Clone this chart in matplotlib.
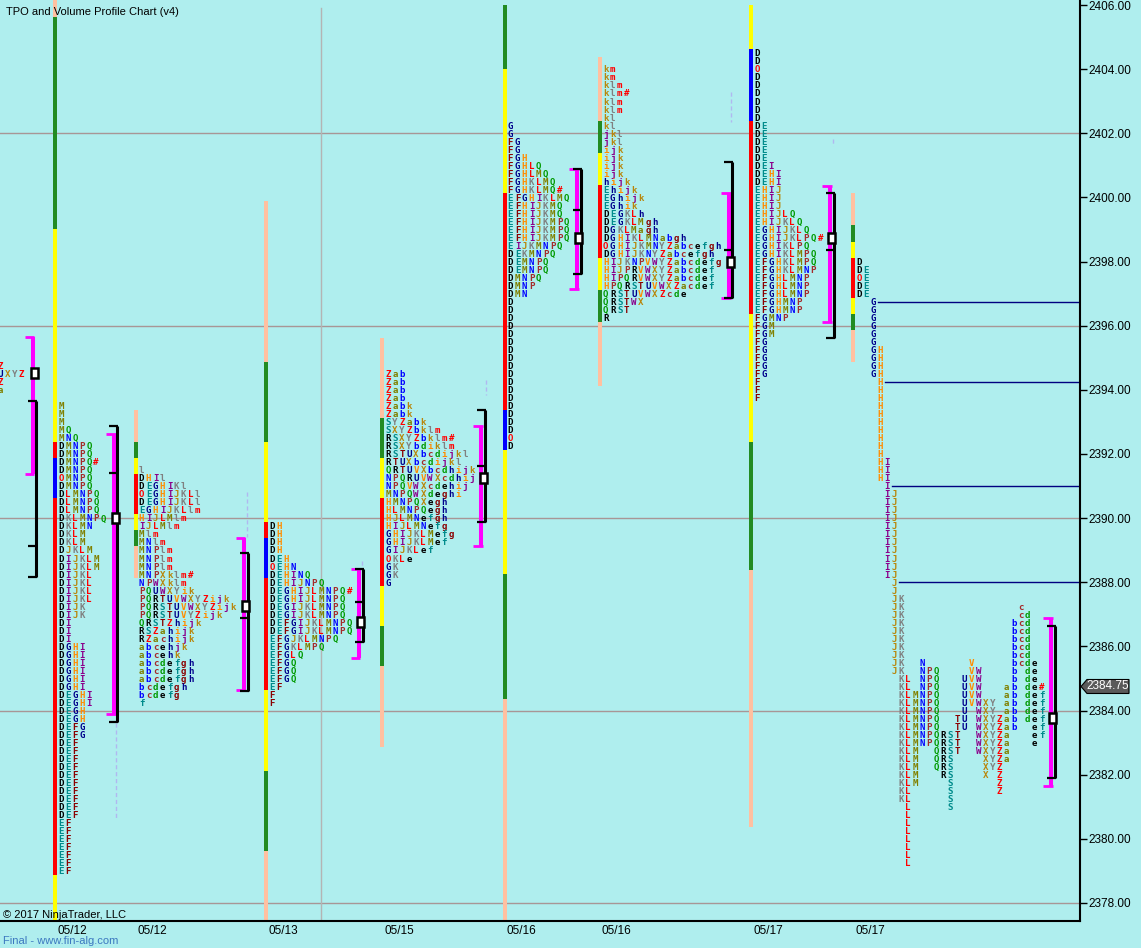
import matplotlib
matplotlib.use('Agg')
import matplotlib.pyplot as plt
from matplotlib.patches import Rectangle, Polygon

# ---- look ----
BG = '#AFEEEE'
MAGENTA = '#FF00FF'
BAR_COLORS = {'p': '#FFC0A0', 'g': '#228B22', 'y': '#FFFF00', 'r': '#FF0000', 'b': '#0000FF'}
LETTERS = 'DEFGHIJKLMNPQRSTUVWXYZabcdefghijklm'
CYCLE = ['#000000', '#008B8B', '#8B0000', '#00008B', '#FF8C00', '#8B008B',
         '#B8860B', '#808080', '#FF0000', '#808000', '#0000FF', '#A52A2A', '#009900']
TICK = 0.25
COL_W = 7.03      # px between letter columns
PX = 32.07        # px per point on the price scale

# ---- data ----
price_ticks = list(range(2378, 2407, 2))
grid_prices = [2378, 2384, 2390, 2396, 2402]
date_labels = ['05/12', '05/12', '05/13', '05/15', '05/16', '05/16', '05/17', '05/17']
last_price = 2384.75

# previous session, only its right edge is visible
p0_top = 2394.75
p0_rows = ['Z', 'UXYZ', 'Z', 'a']

pA_top = 2393.5
pA_rows = (['M', 'M', 'M', 'MQ', 'MNQ', 'DMNPQ', 'DMNPQ', 'DMNPQ#', 'DMNPQ', 'OMNPQ', 'DMNPQ',
            'DLMNPQ', 'DLMNPQ', 'DLMNPQ', 'DKLMNPQ', 'DKLMN', 'DKLM', 'DKLM', 'DJKLM', 'DIJKLM', 'DIJKLM',
            'DIJKL', 'DIJKL', 'DIJKL', 'DIJKL', 'DIJK', 'DIJK', 'DI', 'DI', 'DI']
           + ['DGHI'] * 6 + ['DEGHI'] * 2 + ['DEGH'] * 2 + ['DEFG'] * 2 + ['DEF'] * 10 + ['EF'] * 7)

pB_top = 2391.5
pB_rows = ['l', 'DHIl', 'DEGHIKl', 'OEGHIJKLl', 'DEGHIJKLl', 'EGHIJKLlm', 'HIJLMlm', 'IJLMlm',
           'Mlm', 'MNlm', 'MNPlm', 'MNPlm', 'MNPlm', 'MNPXklm#', 'NPWXklm', 'PQUWXYik',
           'PQRTUVWXYZijk', 'PQRSTUVWXYZijk', 'PQRSTUVYZijk', 'QRSTZhijk', 'RSZahijk', 'RZachijk',
           'abcehjk', 'abcehk', 'abcdefgh', 'abcdefgh', 'abcdefgh', 'bcdefgh', 'bcdefg', 'f']

pC_top = 2389.75
pC_rows = ['DH', 'DH', 'DH', 'DH', 'DEH', 'OEHN', 'DEHINQ', 'DEHIJNPQ', 'DEGHIJLMNPQ#',
           'DEGHIJLMNPQ', 'DEGIJKLMNPQ', 'DEGIJKLMNPQ', 'DEFGIJKLMNPQ', 'DEFGIJKLMNPQ',
           'EFGJKLMNPQ', 'EFGKLMPQ', 'EFGLQ', 'EFGQ', 'EFGQ', 'EFGQ', 'EF', 'F', 'F']

pD_top = 2394.5
pD_rows = ['Zab', 'Zab', 'Zab', 'Zab', 'Zabk', 'Zabk', 'SYZabk', 'SXYZbklm', 'RSXYZbklm#',
           'RSXYbdiklm', 'RSTUXbcdijkl', 'RTUXbcdijkl', 'QRTUVXbcdhijk', 'NPQRUVWXcdhij',
           'NPQVWXcdehij', 'MNPQWXdeghi', 'HMNPQXegh', 'HLMNPQegh', 'HJLMNefgh', 'HIJLMNefg',
           'GHIJKLMefg', 'GHIJKLMef', 'GIJKLef', 'OKLe', 'GK', 'GK', 'G']

pE_top = 2402.25
pE_rows = (['G', 'G', 'FG', 'FG', 'FGH', 'FGHLQ', 'FGHLMQ', 'FGHKLMQ', 'FGHKLMQ#', 'EFGHIKLMQ',
            'EFHIJKMQ', 'EFHIJKMQ', 'EFHIJKMPQ', 'EFHIJKMPQ', 'EFHIJKMPQ', 'EIJKMNPQ', 'DEKMNPQ',
            'DEMNPQ', 'DEMNPQ', 'DMNPQ', 'DMNP', 'DMN'] + ['D'] * 17 + ['O', 'D'])

pF_top = 2404.0
pF_rows = ['km', 'km', 'klm', 'klm#', 'klm', 'klm', 'kl', 'kl', 'jkl', 'jkl', 'ijk', 'ijk', 'ijk',
           'ijk', 'hijk', 'Ehijk', 'EGhijk', 'EGhik', 'DEGKLh', 'DEGKLMgh', 'DGKLMagh',
           'DGHIKLMNabgh', 'OGHIJKMNYZabcefgh', 'DGHIJKNYZabcefgh', 'HIJKNPVWYZabcdefg',
           'HIJPRVWXYZabcdef', 'HIPQRVWXYZabcdef', 'HPQRSTUVWXZacdef', 'QRSTUVWXZcde',
           'QRSTWX', 'QRST', 'R']

pG_top = 2404.5
pG_rows = (['D', 'D', 'O'] + ['D'] * 6 + ['DE'] * 5 + ['DEI', 'DEHI', 'DEHI'] + ['EHIJ'] * 3
           + ['EHIJLQ', 'EHIJKLQ', 'EGHIJKLQ', 'EGHIJKLPQ#', 'EGHIKLPQ', 'EGHIKLMPQ', 'EFGHKLMPQ',
              'EFGHKLMNP'] + ['EFGHLMNP'] * 3 + ['EFGHMNP'] * 2 + ['FGMNP', 'FGM', 'FGM']
           + ['FG'] * 5 + ['F'] * 3)

# current session, split view: one column per period letter, (top, bottom) of its prints
split_letters = ['D', 'E', 'G', 'H', 'I', 'J', 'K', 'L', 'M', 'N', 'P', 'Q', 'R', 'S', 'T', 'U',
                 'V', 'W', 'X', 'Y', 'Z', 'a', 'b', 'c', 'd', 'e', 'f']
split_top = [2398.0, 2397.75, 2396.75, 2395.25, 2391.75, 2390.75, 2387.5, 2385.0, 2384.5, 2385.5,
             2385.25, 2385.25, 2383.25, 2383.25, 2383.75, 2385.0, 2385.5, 2385.25, 2384.25, 2384.25,
             2383.75, 2384.75, 2386.75, 2387.25, 2387.0, 2385.5, 2384.5]
split_bot = [2397.0, 2397.0, 2394.5, 2391.25, 2388.25, 2385.25, 2381.25, 2379.25, 2381.75, 2383.0,
             2383.0, 2382.25, 2382.0, 2381.0, 2382.75, 2383.5, 2384.25, 2382.75, 2382.0, 2382.25,
             2381.5, 2382.5, 2383.5, 2385.5, 2383.75, 2383.0, 2383.25]
split_marks = [('O', 'D', 2397.5), ('#', 'f', 2384.75)]
# untested period highs, lines run to the price axis
naked_letters = ['G', 'H', 'I', 'J']
naked_prices = [2396.75, 2394.25, 2391.0, 2388.0]

# session range bars: price edges and colour keys
barA_edges = [2406.5, 2405.625, 2399.0, 2392.375, 2391.875, 2390.625, 2378.875, 2377.0]
barA_keys = 'pgyrbry'
barB_edges = [2393.375, 2392.375, 2391.875, 2391.375, 2390.125, 2389.625, 2389.125, 2388.125]
barB_keys = 'pgyrygp'
barC_edges = [2399.875, 2394.875, 2392.375, 2389.875, 2389.375, 2388.125, 2384.625, 2382.125,
              2379.625, 2377.0]
barC_keys = 'pgyrbrygp'
barD_edges = [2395.625, 2393.125, 2391.875, 2390.625, 2387.875, 2386.625, 2385.375, 2382.875]
barD_keys = 'pgyrygp'
barE_edges = [2406.0, 2404.0, 2400.125, 2393.375, 2392.125, 2388.25, 2384.375, 2377.0]
barE_keys = 'gyrbygp'
barF_edges = [2404.375, 2402.375, 2401.375, 2400.375, 2398.125, 2397.125, 2396.125, 2394.125]
barF_keys = 'pgyrygp'
barG_edges = [2406.0, 2404.625, 2402.375, 2396.375, 2392.375, 2388.375, 2380.375]
barG_keys = 'ybrygp'
barH_edges = [2400.125, 2399.125, 2398.625, 2398.125, 2396.875, 2396.375, 2395.875, 2394.875]
barH_keys = 'pgyrygp'

# value areas: TPO (magenta), volume (black), point of control, extra marks
va0 = dict(tpo=(2395.65, 2391.38), vol=(2393.65, 2388.16), poc=2394.52, marks=[2389.13])
vaA = dict(tpo=(2392.63, 2383.90), vol=(2392.88, 2383.65), poc=2390.0, marks=[2391.41])
vaB = dict(tpo=(2389.39, 2384.64), vol=(2388.91, 2384.61), poc=2387.27, marks=[2386.9])
vaC = dict(tpo=(2388.40, 2385.65), vol=(2388.41, 2386.14), poc=2386.77, marks=[2387.39])
vaD = dict(tpo=(2392.88, 2389.13), vol=(2393.37, 2389.88), poc=2391.26, marks=[2391.63])
vaE = dict(tpo=(2400.89, 2397.14), vol=(2400.89, 2397.61), poc=2398.74, marks=[2399.61])
vaF = dict(tpo=(2400.14, 2396.86), vol=(2401.11, 2396.86), poc=2397.99, marks=[2398.36])
vaG = dict(tpo=(2400.37, 2396.12), vol=(2400.14, 2395.63), poc=2398.74, marks=[2398.37])
vaH = dict(tpo=(2386.89, 2381.66), vol=(2386.65, 2381.89), poc=2383.78, marks=[])

# faint single-print markers (x px, top, bottom)
faint = [(116, 2383.61, 2380.65), (246.5, 2390.81, 2389.41), (362, 2388.65, 2388.40),
         (486, 2394.30, 2393.85), (731, 2403.29, 2402.35), (833, 2401.82, 2401.60),
         (1056, 2383.95, 2383.70), (37, 2389.50, 2389.30), (118, 2391.60, 2391.40)]

# ---- layout (px): first letter column centre, bar centre, magenta/black bracket x ----
layout = {
    '0': dict(x0=0.5, bar=None, xm=32.5, xb=35.5),
    'A': dict(x0=61, bar=55, xm=114, xb=117),
    'B': dict(x0=141.5, bar=136, xm=243.5, xb=247.5),
    'C': dict(x0=272, bar=266, xm=358.5, xb=362.5),
    'D': dict(x0=388, bar=382, xm=481, xb=485),
    'E': dict(x0=510.5, bar=505, xm=577, xb=580.5),
    'F': dict(x0=605.7, bar=600, xm=729, xb=731.5),
    'G': dict(x0=757, bar=751, xm=830, xb=833.5),
    'H': dict(x0=859, bar=853, xm=1051, xb=1054.5),
}


def letter_color(ch):
    if ch in 'O#':
        return '#FF0000'
    return CYCLE[LETTERS.index(ch) % 13]


fig = plt.figure(figsize=(11.41, 9.48), dpi=100, facecolor=BG)
ax = fig.add_axes([0, 27 / 948, 1080 / 1141, 921 / 948])
ax.set_facecolor(BG)
ax.set_xlim(0, 1080)
ax.set_ylim(2406 - 916 / PX, 2406 + 5 / PX)

TXT = dict(fontsize=6.6, family='DejaVu Sans Mono', weight='bold', ha='center', va='baseline',
           zorder=3)
BASE = 3.3 / PX   # shift so the letter sits centred on its price


def put(x, p, ch):
    ax.text(x, p - BASE, ch, color=letter_color(ch), **TXT)


def draw_rows(key, top, rows):
    x0 = layout[key]['x0']
    for i, row in enumerate(rows):
        p = top - TICK * i
        for j, ch in enumerate(row):
            if ch != ' ':
                put(x0 + COL_W * j, p, ch)


def draw_bar(key, edges, keys):
    xc = layout[key]['bar']
    for hi, lo, k in zip(edges[:-1], edges[1:], keys):
        ax.bar(xc, hi - lo, bottom=lo, width=4, color=BAR_COLORS[k], linewidth=0, zorder=2)


def draw_va(key, va):
    xm, xb = layout[key]['xm'], layout[key]['xb']
    ax.plot([xm, xm], va['tpo'], color=MAGENTA, lw=2.9, solid_capstyle='butt', zorder=4)
    for p in va['tpo']:
        ax.plot([xm - 8, xm + 1.5], [p, p], color=MAGENTA, lw=2.0, solid_capstyle='butt', zorder=4)
    ax.plot([xb, xb], va['vol'], color='black', lw=2.2, solid_capstyle='butt', zorder=4)
    for p in list(va['vol']) + va['marks']:
        ax.plot([xb - 8, xb + 1], [p, p], color='black', lw=1.6, solid_capstyle='butt', zorder=4)
    xc = (xm + xb) / 2
    ax.add_patch(Rectangle((xc - 3.5, va['poc'] - 5 / PX), 7, 10 / PX, facecolor='white',
                           edgecolor='black', lw=1.8, zorder=5))


# grid and guide lines
for g in grid_prices:
    ax.axhline(g, color='#A89696', lw=1, zorder=1)
ax.plot([321, 321], [2406 - 3 / PX, 2370], color='#B4B4B4', lw=1, zorder=1)
for x, top, bot in faint:
    ax.plot([x, x], [top, bot], color='#B0B8F0', lw=1, ls=(0, (3, 2)), zorder=1)

# bars
draw_bar('A', barA_edges, barA_keys)
draw_bar('B', barB_edges, barB_keys)
draw_bar('C', barC_edges, barC_keys)
draw_bar('D', barD_edges, barD_keys)
draw_bar('E', barE_edges, barE_keys)
draw_bar('F', barF_edges, barF_keys)
draw_bar('G', barG_edges, barG_keys)
draw_bar('H', barH_edges, barH_keys)

# letters
draw_rows('0', p0_top, p0_rows)
draw_rows('A', pA_top, pA_rows)
draw_rows('B', pB_top, pB_rows)
draw_rows('C', pC_top, pC_rows)
draw_rows('D', pD_top, pD_rows)
draw_rows('E', pE_top, pE_rows)
draw_rows('F', pF_top, pF_rows)
draw_rows('G', pG_top, pG_rows)

x0H = layout['H']['x0']
for i, (ch, top, bot) in enumerate(zip(split_letters, split_top, split_bot)):
    n = int(round((top - bot) / TICK)) + 1
    for k in range(n):
        p = top - TICK * k
        if any(c == ch and abs(p - mp) < 1e-6 for _, c, mp in split_marks):
            continue
        put(x0H + COL_W * i, p, ch)
for mark, col, p in split_marks:
    put(x0H + COL_W * split_letters.index(col), p, mark)
for col, p in zip(naked_letters, naked_prices):
    xs = x0H + COL_W * split_letters.index(col) + 5
    ax.plot([xs, 1080], [p, p], color='#000080', lw=1, zorder=2)

# value areas
draw_va('0', va0)
draw_va('A', vaA)
draw_va('B', vaB)
draw_va('C', vaC)
draw_va('D', vaD)
draw_va('E', vaE)
draw_va('F', vaF)
draw_va('G', vaG)
draw_va('H', vaH)

# axes
for s in ['top', 'left']:
    ax.spines[s].set_visible(False)
ax.spines['right'].set_linewidth(1.5)
ax.spines['bottom'].set_linewidth(1.5)
ax.yaxis.tick_right()
ax.set_yticks(price_ticks)
ax.set_yticklabels([f'{v:.2f}' for v in price_ticks], fontsize=8.5, family='Liberation Sans')
ax.tick_params(axis='y', direction='out', length=5, width=1, pad=1)
ax.set_xticks([layout[k]['x0'] + 11 for k in 'ABCDEFGH'])
ax.set_xticklabels(date_labels, fontsize=8.5, family='Liberation Sans')
ax.tick_params(axis='x', length=0, pad=3)

# last price marker
h = 7 / PX
ax.add_patch(Polygon([(1081, last_price), (1087, last_price + h), (1129, last_price + h),
                      (1129, last_price - h), (1087, last_price - h)], closed=True,
                     facecolor='#5A5A5A', edgecolor='black', lw=0.8, clip_on=False, zorder=6))
ax.text(1108, last_price, f'{last_price:.2f}', color='white', fontsize=8.5, family='Liberation Sans',
        ha='center', va='center', clip_on=False, zorder=7)

fig.text(6 / 1141, 1 - 12 / 948, 'TPO and Volume Profile Chart (v4)', fontsize=8,
         family='Liberation Sans', va='center')
fig.text(3 / 1141, 1 - 915 / 948, '\u00a9 2017 NinjaTrader, LLC', fontsize=8,
         family='Liberation Sans', va='center')
fig.text(3 / 1141, 1 - 941 / 948, 'Final - www.fin-alg.com', fontsize=8, color='#3C78C0',
         family='Liberation Sans', va='center')

fig.savefig('out.png', dpi=100, facecolor=BG)
